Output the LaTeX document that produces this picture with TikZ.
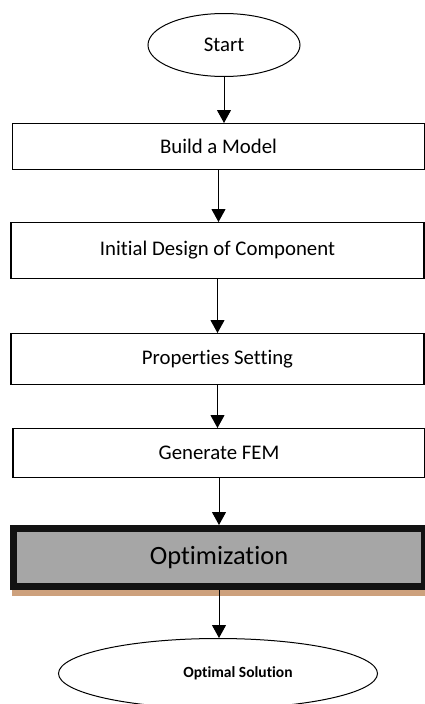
\documentclass[tikz,border=0pt]{standalone}
\usepackage{fontspec}
\setmainfont{Carlito}[Ligatures=NoCommon]
\usetikzlibrary{shapes.geometric,arrows.meta,positioning}
\definecolor{optgray}{RGB}{166,166,166}
\definecolor{shadowtan}{RGB}{205,161,125}
\tikzstyle{block}=[draw, line width=1.3pt, minimum width=412pt, inner sep=0pt, font=\fontsize{20.8}{24}\selectfont]
\tikzstyle{term}=[draw, ellipse, line width=1pt, inner sep=0pt]
\tikzstyle{arrow}=[line width=1pt,-{Triangle[width=14pt,length=13pt]}]

\begin{document}
\begin{tikzpicture}[node distance=46pt]
\useasboundingbox (0,0) rectangle (425pt,-704pt);
\node (start) [term, minimum width=152pt, minimum height=63pt, font=\fontsize{20.8}{24}\selectfont] at (224pt,-45pt) {Start};
\node (model) [block, below=46pt of start, xshift=-5.5pt, minimum height=45.7pt] {Build a Model};
\node (design) [block, below=52pt of model, xshift=-1pt, minimum width=413pt, minimum height=55.7pt] {Initial Design of Component};
\node (props) [block, below=54pt of design, minimum width=413pt, minimum height=50.7pt] {Properties Setting};
\node (fem) [block, below=43pt of props, xshift=1.5pt, minimum height=48.7pt] {Generate FEM};
\node (opt) [below=47pt of fem, draw=black!93, fill=optgray, line width=7pt, minimum width=411pt, minimum height=58pt, inner sep=0pt, font=\fontsize{26.4}{30}\selectfont] {Optimization};
\fill[shadowtan] ([xshift=2pt]opt.south west) rectangle ([yshift=-6pt]opt.south east);
\node (sol) [term, below=48pt of opt, xshift=-1pt, minimum width=319pt, minimum height=70pt, font=\fontsize{15.5}{18}\selectfont\bfseries] {\hspace*{40pt}Optimal Solution};
\draw[arrow] (start)--(start |- model.north);
\draw[arrow] (model)--(model |- design.north);
\draw[arrow] (design)--(design |- props.north);
\draw[arrow] (props)--(props |- fem.north);
\draw[arrow] (fem)--(fem |- opt.north);
\draw[arrow] (opt)--(opt |- sol.north);
\end{tikzpicture}
\end{document}
